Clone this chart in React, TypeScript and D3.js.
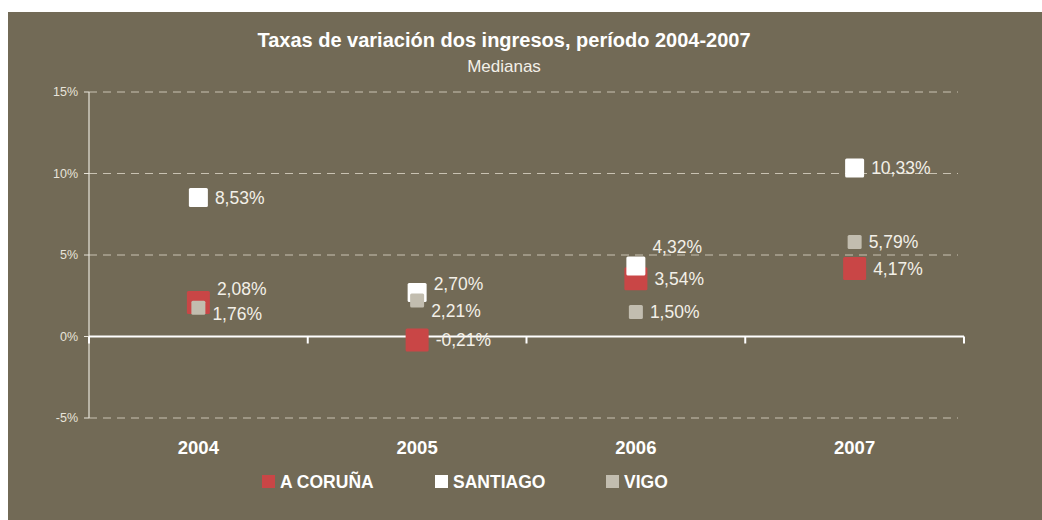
import React from 'react';
import * as d3 from 'd3';

const years = ['2004', '2005', '2006', '2007'];
const series = ['A CORUÑA', 'SANTIAGO', 'VIGO'];
const coruna = [2.08, -0.21, 3.54, 4.17];
const santiago = [8.53, 2.7, 4.32, 10.33];
const vigo = [1.76, 2.21, 1.5, 5.79];
const yTicks = [-5, 0, 5, 10, 15];

// label nudges (px) so the data labels don't pile up, like the original
const labelDy = {
  'A CORUÑA': [-14, 0, 0, 0],
  SANTIAGO: [0, -9, -19, 0],
  VIGO: [6, 10, 0, 0],
};

const colors = { 'A CORUÑA': '#c94646', SANTIAGO: '#ffffff', VIGO: '#c2bdaf' };
const sizes = { 'A CORUÑA': 23, SANTIAGO: 19, VIGO: 14 };
const values = { 'A CORUÑA': coruna, SANTIAGO: santiago, VIGO: vigo };

const W = 1042;
const H = 520;
const bg = '#726a56';
const font = '"Liberation Sans", Arial, sans-serif';
const txt = '#f3f0e8';

export default function App() {
  const x = d3.scaleBand().domain(years).range([89, 964]);
  const y = d3.scaleLinear().domain([-5, 15]).range([418, 92]);
  const fmt = (v: number) => v.toFixed(2).replace('.', ',') + '%';

  return (
    <svg width={W} height={H} style={{ position: 'fixed', left: 0, top: 0 }}>
      <rect x={8} y={12} width={W + 20} height={H + 20} fill={bg} />
      <text x={504} y={47} textAnchor="middle" fill="#fff" fontFamily={font} fontWeight="bold" fontSize={20}>
        Taxas de variación dos ingresos, período 2004-2007
      </text>
      <text x={504} y={72} textAnchor="middle" fill={txt} fontFamily={font} fontSize={17}>
        Medianas
      </text>

      {yTicks.map(t => (
        <g key={t}>
          {t !== 0 && (
            <line x1={x.range()[0]} x2={958} y1={y(t)} y2={y(t)} stroke="#c9c2b2" strokeDasharray="8,6" strokeWidth={1} />
          )}
          <line x1={x.range()[0] - 5} x2={x.range()[0]} y1={y(t)} y2={y(t)} stroke="#e8e4da" />
          <text x={78} y={y(t)} dy="0.35em" textAnchor="end" fill="#e8e4da" fontFamily={font} fontSize={12.5}>
            {t}%
          </text>
        </g>
      ))}
      <line x1={x.range()[0]} x2={x.range()[0]} y1={y(15)} y2={y(-5)} stroke="#e8e4da" strokeWidth={1.2} />
      <line x1={x.range()[0]} x2={x.range()[1]} y1={y(0)} y2={y(0)} stroke="#fff" strokeWidth={2} />
      {years.map(yr => (
        <line key={yr} x1={x(yr)! + x.bandwidth()} x2={x(yr)! + x.bandwidth()} y1={y(0)} y2={y(0) + 7} stroke="#fff" strokeWidth={2} />
      ))}
      <line x1={x.range()[0]} x2={x.range()[0]} y1={y(0)} y2={y(0) + 7} stroke="#fff" strokeWidth={2} />

      {years.map(yr => (
        <text key={yr} x={x(yr)! + x.bandwidth() / 2} y={454} textAnchor="middle" fill="#fff" fontFamily={font} fontWeight="bold" fontSize={18.5}>
          {yr}
        </text>
      ))}

      {series.map(s =>
        values[s].map((v, i) => {
          const cx = x(years[i])! + x.bandwidth() / 2;
          const cy = y(v);
          const sz = sizes[s];
          return (
            <rect key={s + i} x={cx - sz / 2} y={cy - sz / 2} width={sz} height={sz} rx={1.5} fill={colors[s]} />
          );
        })
      )}
      {series.map(s =>
        values[s].map((v, i) => {
          const cx = x(years[i])! + x.bandwidth() / 2;
          const cy = y(v);
          const sz = sizes[s];
          return (
            <text key={'l' + s + i} x={cx + sz / 2 + 7} y={cy + labelDy[s][i]} dy="0.36em" fill={txt} fontFamily={font} fontSize={17.5}>
              {fmt(v)}
            </text>
          );
        })
      )}

      {series.map((s, i) => {
        const lx = [262, 435, 606][i];
        return (
          <g key={s}>
            <rect x={lx} y={475} width={13} height={13} fill={colors[s]} />
            <text x={lx + 18} y={488} fill="#fff" fontFamily={font} fontWeight="bold" fontSize={17.5}>
              {s}
            </text>
          </g>
        );
      })}
    </svg>
  );
}
